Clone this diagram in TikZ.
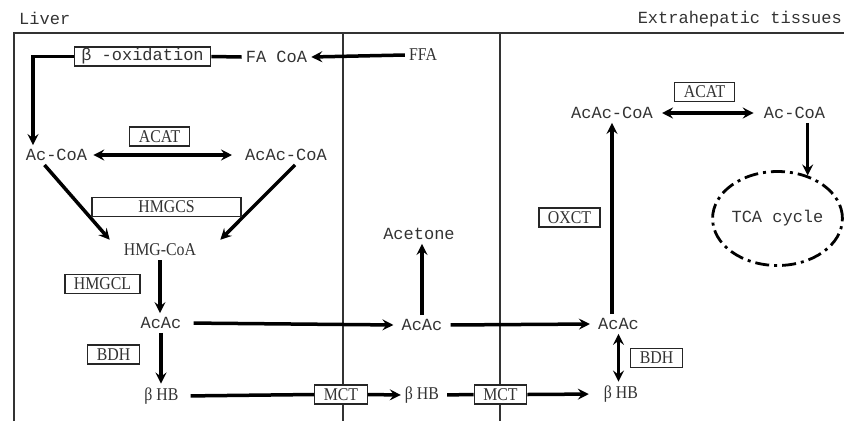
\documentclass[tikz,border=0pt]{standalone}
\usepackage{fontspec}
\setmainfont{Liberation Serif}
\setmonofont{Liberation Mono}
\newfontfamily\narrowserif[FakeStretch=0.88]{Liberation Serif}
\newcommand\monof{\ttfamily\fontsize{17}{20}\selectfont}
\newcommand\enzf{\narrowserif\fontsize{18}{20}\selectfont}
\usetikzlibrary{arrows.meta, shapes.geometric}

\begin{document}
\begin{tikzpicture}[
  x=1pt, y=-1pt,
  mol/.style={font=\monof, text=black!80, inner sep=4pt},
  tmol/.style={font=\enzf, text=black!80, inner sep=4pt},
  enz/.style={draw=black!85, line width=1.3pt, fill=white, font=\enzf, text=black!80,
              inner xsep=9pt, inner ysep=0pt, minimum height=19pt},
  wall/.style={black!80, line width=1.4pt},
  arr/.style={line width=3.5pt, -{Stealth[length=11pt, width=11pt, inset=4pt]}},
  darr/.style={line width=3.5pt, {Stealth[length=11pt, width=11pt, inset=4pt]}-{Stealth[length=11pt, width=11pt, inset=4pt]}},
  link/.style={line width=3.5pt},
  tcac/.style={ellipse, draw=black, line width=2.8pt, dash pattern=on 14pt off 5pt on 3pt off 5pt,
               minimum width=108pt, minimum height=94pt, inner sep=0pt, font=\monof, text=black!80},
]
  \useasboundingbox (0,0) rectangle (844,421);

  % Compartment walls
  \draw[wall] (14,421) |- (844,33);
  \draw[wall] (343,33) -- (343,421);
  \draw[wall] (500,33) -- (500,421);

  % Headings
  \node[mol, anchor=west] (liver) at (15,18) {Liver};
  \node[mol, anchor=east] (extra) at (846,19) {Extrahepatic tissues};

  % Liver
  \node[enz, font=\monof, inner xsep=7pt] (betaox) at (142.5,56.5) {β -oxidation};
  \node[mol]  (facoa)  at (276.5,57)  {FA CoA};
  \node[tmol] (ffa)    at (423,55)    {FFA};
  \node[mol]  (acoa)   at (56.5,155)  {Ac-CoA};
  \node[mol]  (acacoa) at (286,155)   {AcAc-CoA};
  \node[enz]  (acat)   at (159.5,136.5) {ACAT};
  \node[tmol] (hmg)    at (160,250)   {HMG-CoA};
  \draw[arr] ([xshift=-12pt]acoa.south) -- ([xshift=-10pt]hmg.north west);
  \draw[arr] ([xshift=9pt]acacoa.south) -- ([xshift=20pt]hmg.north east);
  \node[enz, minimum width=149pt] (hmgcs) at (166.5,207) {HMGCS};
  \node[enz]  (hmgcl)  at (102.5,284) {HMGCL};
  \node[mol]  (acacL)  at (161,323)   {AcAc};
  \node[enz]  (bdhL)   at (113.5,354.5) {BDH};
  \node[tmol] (bhbL)   at (161.5,396) {β HB};

  % Blood
  \node[enz]  (mct1)   at (341,394.5) {MCT};
  \node[mol]  (acetone) at (419,234)  {Acetone};
  \node[mol]  (acacM)  at (422,325)   {AcAc};
  \node[tmol] (bhbM)   at (422,395)   {β HB};
  \node[enz]  (mct2)   at (500.5,394.5) {MCT};

  % Extrahepatic
  \node[mol]  (acacR)   at (618.5,324) {AcAc};
  \node[tmol] (bhbR)    at (621,394)   {β HB};
  \node[enz]  (bdhR)    at (656.5,358) {BDH};
  \node[enz]  (oxct)    at (569.5,217.5) {OXCT};
  \node[mol]  (acacoaR) at (612,113)   {AcAc-CoA};
  \node[enz]  (acatR)   at (704.5,92)  {ACAT};
  \node[mol]  (acoaR)   at (794.5,113) {Ac-CoA};
  \node[tcac] (tca)     at (777.5,218.5) {TCA cycle};

  \coordinate (bend) at (33,56.5);
  \draw[link] (betaox.east) -- (facoa.west);
  \draw[arr] (betaox.west) -- (bend) -- (bend |- acoa.north);
  \draw[arr] (ffa.west) -- (facoa.east);
  \draw[darr, shorten <=2pt, shorten >=9pt] (acoa.east) -- (acacoa.west);
  \draw[arr] (hmg.south) -- (hmg.south |- acacL.north);
  \draw[arr] (acacL.south) -- (acacL.south |- bhbL.north);
  \draw[arr, shorten <=8pt, shorten >=4pt] (acacL.east) -- (acacM.west);
  \draw[arr] (acacM.north) -- (acacM.north |- acetone.south);
  \draw[arr, shorten <=4pt, shorten >=4pt] (acacM.east) -- (acacR.west);
  \draw[link, shorten <=8pt] (bhbL.east) -- (mct1.west);
  \draw[arr] (mct1.east) -- (bhbM.west);
  \draw[link, shorten <=4pt] (bhbM.east) -- (mct2.west);
  \draw[arr, shorten >=11pt] (mct2.east) -- (bhbR.west);
  \draw[darr] (acacR.south) -- (acacR.south |- bhbR.north);
  \draw[arr] (acacoaR.south |- acacR.north) -- (acacoaR.south);
  \draw[darr, shorten <=5pt, shorten >=6pt] (acacoaR.east) -- (acoaR.west);
  \draw[arr] (tca.55 |- acoaR.south) -- (tca.55);
\end{tikzpicture}
\end{document}
